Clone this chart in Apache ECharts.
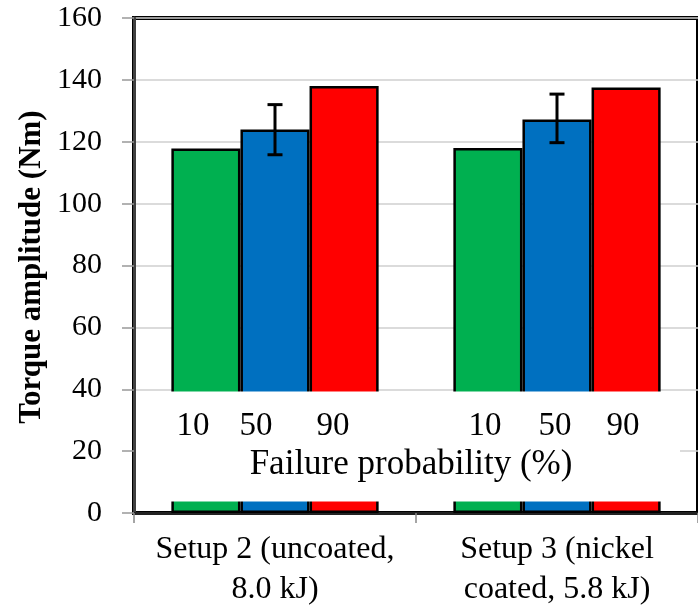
<!DOCTYPE html>
<html><head><meta charset="utf-8">
<script src="https://cdn.jsdelivr.net/npm/echarts@6/dist/echarts.min.js"></script>
<style>html,body{margin:0;padding:0;background:#fff}#c{width:698px;height:610px}</style>
</head><body><div id="c"></div>
<script>
// ---- data ----
const categories = ['Setup 2 (uncoated,\n8.0 kJ)', 'Setup 3 (nickel\ncoated, 5.8 kJ)'];
const probabilityLabels = ['10', '50', '90'];
const p10 = [117.8, 118.0];
const p50 = [124.0, 127.2];
const p90 = [138.0, 137.5];
const p50Low = [115.8, 119.7];
const p50High = [132.0, 135.4];
const yMin = 0, yMax = 160, yStep = 20;
const yTitle = 'Torque amplitude (Nm)';
const innerTitle = 'Failure probability (%)';

const FONT = "'Liberation Serif', 'Times New Roman', serif";
const colors = ['#00b050', '#0070c0', '#ff0000'];

const chart = echarts.init(document.getElementById('c'), null, {renderer: 'canvas'});

function barSeries(name, data, color) {
  return {
    name, type: 'bar', data, barGap: '0%', barCategoryGap: '26.5%',
    itemStyle: {color, borderColor: '#000', borderWidth: 2.5},
    z: 2
  };
}

const errData = categories.map((c, i) => [i, p50Low[i], p50High[i]]);

const option = {
  backgroundColor: '#fff',
  animation: false,
  grid: {left: 134, top: 18, right: -3, bottom: 91, show: true, borderColor: '#000', borderWidth: 4, backgroundColor: 'transparent'},
  xAxis: {
    type: 'category', data: categories,
    axisLine: {show: true, lineStyle: {color: '#222', width: 3}},
    axisTick: {show: true, length: 10, lineStyle: {color: '#888', width: 1.5}},
    axisLabel: {fontFamily: FONT, fontSize: 32, lineHeight: 40, color: '#000', margin: 17, interval: 0}
  },
  yAxis: {
    type: 'value', min: yMin, max: yMax, interval: yStep,
    axisLine: {show: true, lineStyle: {color: '#404040', width: 3}},
    axisTick: {show: true, length: 12, lineStyle: {color: '#999', width: 1.5}},
    axisLabel: {fontFamily: FONT, fontSize: 30, color: '#000', margin: 32},
    splitLine: {show: true, lineStyle: {color: '#cfcfcf', width: 1.5}}
  },
  series: [
    barSeries(probabilityLabels[0], p10, colors[0]),
    barSeries(probabilityLabels[1], p50, colors[1]),
    barSeries(probabilityLabels[2], p90, colors[2]),
    {
      type: 'custom', data: errData, encode: {x: 0, y: [1, 2]}, z: 5,
      renderItem: function (params, api) {
        const x = api.value(0);
        const lo = api.coord([x, api.value(1)]);
        const hi = api.coord([x, api.value(2)]);
        const hw = 7.5;
        const st = {stroke: '#000', lineWidth: 3};
        return {type: 'group', children: [
          {type: 'line', shape: {x1: hi[0], y1: hi[1], x2: lo[0], y2: lo[1]}, style: st},
          {type: 'line', shape: {x1: hi[0] - hw, y1: hi[1], x2: hi[0] + hw, y2: hi[1]}, style: st},
          {type: 'line', shape: {x1: lo[0] - hw, y1: lo[1], x2: lo[0] + hw, y2: lo[1]}, style: st}
        ]};
      }
    }
  ]
};
chart.setOption(option);

// ---- overlay text box (secondary axis labels) and axis title ----
const labelOffsets = [[-82, -19, 58], [-72, -2, 66]];
const c0 = chart.convertToPixel({xAxisIndex: 0}, 0);
const c1 = chart.convertToPixel({xAxisIndex: 0}, 1);
const half = (c1 - c0) / 2;
const boxTop = chart.convertToPixel({yAxisIndex: 0}, 39.3);
const boxBot = chart.convertToPixel({yAxisIndex: 0}, 3.7);
const numY = chart.convertToPixel({yAxisIndex: 0}, 28.1);
const titleY = chart.convertToPixel({yAxisIndex: 0}, 15.6);
const yTitleY = chart.convertToPixel({yAxisIndex: 0}, 79.5);
const els = [{
  type: 'rect', z: 50,
  shape: {x: c0 - half + 2, y: boxTop, width: (c1 + half - 18) - (c0 - half + 2), height: boxBot - boxTop},
  style: {fill: '#fff'}
}];
[c0, c1].forEach((cx, g) => {
  probabilityLabels.forEach((t, k) => {
    els.push({type: 'text', z: 51, x: cx + labelOffsets[g][k], y: numY,
      style: {text: t, fontFamily: FONT, fontSize: 33, fill: '#000', align: 'center', verticalAlign: 'middle'}});
  });
});
els.push({type: 'text', z: 51, x: c0 + half - 5, y: titleY,
  style: {text: innerTitle, fontFamily: FONT, fontSize: 35, fill: '#000', align: 'center', verticalAlign: 'middle'}});
els.push({type: 'text', z: 51, x: 32, y: yTitleY, rotation: Math.PI / 2,
  style: {text: yTitle, fontFamily: FONT, fontSize: 31, fontWeight: 'bold', fill: '#000', align: 'center', verticalAlign: 'middle'}});
chart.setOption({graphic: els});
</script></body></html>
